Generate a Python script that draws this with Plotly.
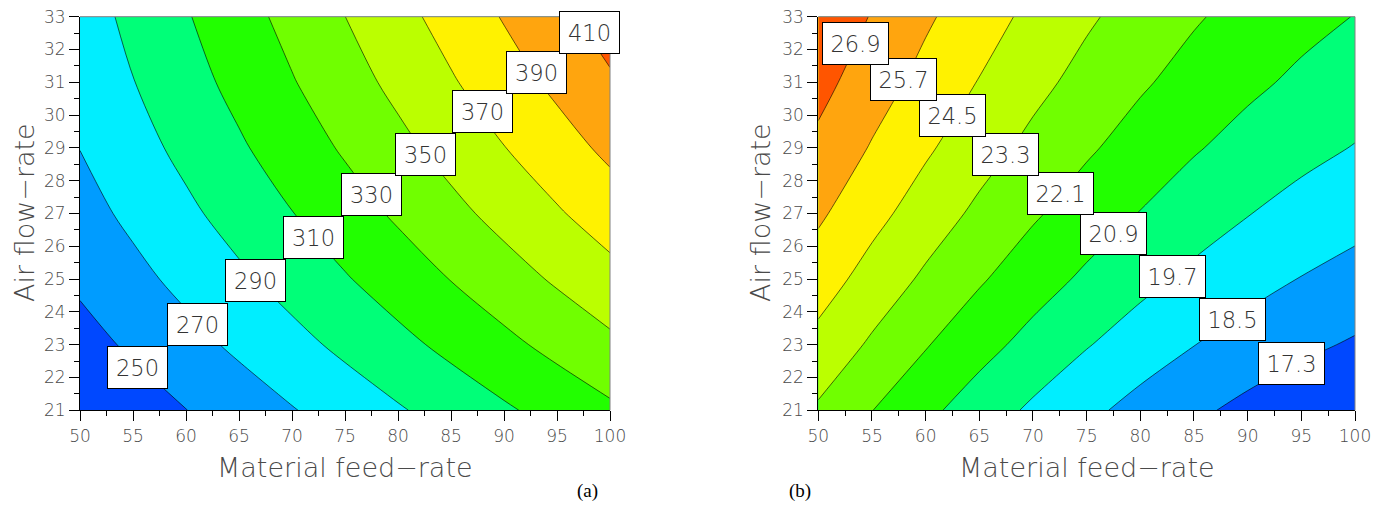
import plotly.graph_objects as go

# ---------------- data ----------------
feed_rate = [50, 55, 60, 65, 70, 75, 80, 85, 90, 95, 100]
air_flow = [21, 23, 25, 27, 29, 31, 33]

# panel (a) response surface values, rows follow air_flow
resp_a = [
    [230.5, 240.1, 249.7, 259.3, 268.9, 278.5, 288.1, 297.7, 307.3, 316.9, 326.5],
    [242.8, 253.1, 263.4, 273.7, 284.0, 294.3, 304.6, 314.9, 325.2, 335.5, 345.8],
    [253.5, 264.5, 275.5, 286.5, 297.5, 308.5, 319.5, 330.5, 341.5, 352.5, 363.5],
    [262.7, 274.4, 286.1, 297.8, 309.5, 321.2, 332.9, 344.6, 356.3, 368.0, 379.7],
    [270.3, 282.7, 295.1, 307.5, 319.9, 332.3, 344.7, 357.1, 369.5, 381.9, 394.3],
    [276.4, 289.5, 302.6, 315.7, 328.8, 341.9, 355.0, 368.1, 381.2, 394.3, 407.4],
    [280.9, 294.7, 308.5, 322.3, 336.1, 349.9, 363.7, 377.5, 391.3, 405.1, 418.9],
]

# panel (b) response surface values, rows follow air_flow
resp_b = [
    [23.14, 22.12, 21.18, 20.31, 19.50, 18.77, 18.11, 17.52, 17.00, 16.54, 16.16],
    [24.14, 23.13, 22.18, 21.31, 20.51, 19.77, 19.11, 18.52, 18.00, 17.55, 17.17],
    [25.06, 24.04, 23.10, 22.23, 21.42, 20.69, 20.03, 19.44, 18.92, 18.46, 18.08],
    [25.89, 24.87, 23.93, 23.05, 22.25, 21.52, 20.86, 20.26, 19.74, 19.29, 18.91],
    [26.63, 25.61, 24.67, 23.79, 22.99, 22.26, 21.60, 21.00, 20.48, 20.03, 19.65],
    [27.28, 26.26, 25.32, 24.45, 23.64, 22.91, 22.25, 21.66, 21.14, 20.68, 20.30],
    [27.84, 26.83, 25.88, 25.01, 24.21, 23.47, 22.81, 22.22, 21.70, 21.25, 20.87],
]

levels_a = [250, 270, 290, 310, 330, 350, 370, 390, 410]
levels_b = [17.3, 18.5, 19.7, 20.9, 22.1, 23.3, 24.5, 25.7, 26.9]

x_ticks = [50, 55, 60, 65, 70, 75, 80, 85, 90, 95, 100]
y_ticks = [21, 22, 23, 24, 25, 26, 27, 28, 29, 30, 31, 32, 33]

# ---------------- layout helpers ----------------
# label box centres (layout positions in data coordinates)
lab_pos_a = [(55.47, 22.32), (61.04, 23.63), (66.51, 24.95), (72.0, 26.27), (77.5, 27.59),
             (82.55, 28.79), (88.0, 30.12), (93.05, 31.30), (98.05, 32.52)]
lab_pos_b = [(94.10, 22.44), (88.56, 23.76), (83.04, 25.09), (77.52, 26.40), (72.55, 27.61),
             (67.47, 28.80), (62.52, 30.00), (57.96, 31.08), (53.45, 32.17)]

band_colors = ['#0048FF', '#009CFF', '#00EEFF', '#00FF78', '#22FF00',
               '#70FF00', '#BBFF00', '#FFF200', '#FFA50E', '#FF5500']
cscale = [[i / (len(band_colors) - 1), c] for i, c in enumerate(band_colors)]

W, H = 1390, 508
OFF = 8  # page body margin compensation (px)


def px(x):
    return (x - OFF) / W


def py(y):
    return (H - (y - OFF)) / H


def contour(z, levels, xa, ya):
    step = (levels[-1] - levels[0]) / (len(levels) - 1)
    return go.Contour(
        x=feed_rate, y=air_flow, z=z,
        xaxis=xa, yaxis=ya,
        colorscale=cscale, showscale=False,
        contours=dict(start=levels[0], end=levels[-1], size=step,
                      coloring='fill', showlines=True),
        line=dict(color='black', width=0.6, smoothing=0.9),
        hoverinfo='skip',
    )


fig = go.Figure()
fig.add_trace(contour(resp_a, levels_a, 'x', 'y'))
fig.add_trace(contour(resp_b, levels_b, 'x2', 'y2'))

tickfont = dict(family='DejaVu Sans', size=17, color='#4a4a4a', weight=200)


def xax(dom, anchor):
    return dict(domain=dom, range=[50, 100], tickmode='array', tickvals=x_ticks,
                ticks='outside', ticklen=10, tickwidth=1, tickcolor='black',
                minor=dict(dtick=2.5, tick0=50, ticks='outside', ticklen=5,
                           tickwidth=1, tickcolor='black'),
                showline=True, linecolor='black', linewidth=1, mirror=False,
                showgrid=False, zeroline=False, tickfont=tickfont,
                ticklabeloverflow='allow',
                anchor=anchor, fixedrange=True, automargin=False)


def yax(dom, anchor):
    return dict(domain=dom, range=[21, 33], tickmode='array', tickvals=y_ticks,
                ticks='outside', ticklen=10, tickwidth=1, tickcolor='black',
                minor=dict(dtick=0.5, tick0=21, ticks='outside', ticklen=5,
                           tickwidth=1, tickcolor='black'),
                showline=True, linecolor='black', linewidth=1, mirror=False,
                showgrid=False, zeroline=False, tickfont=tickfont,
                ticklabeloverflow='allow',
                anchor=anchor, fixedrange=True, automargin=False)


xa_dom = [px(80), px(610)]
xb_dom = [px(818.3), px(1355)]
ya_dom = [py(410.3), py(16.7)]
yb_dom = [py(410.3), py(16.7)]

fig.update_layout(
    width=W, height=H,
    margin=dict(l=0, r=0, t=0, b=0),
    paper_bgcolor='white', plot_bgcolor='white',
    showlegend=False,
    xaxis=xax(xa_dom, 'y'), yaxis=yax(ya_dom, 'x'),
    xaxis2=xax(xb_dom, 'y2'), yaxis2=yax(yb_dom, 'x2'),
)

# top / right frame lines (gray)
shapes = []
for xr, yr in (('x domain', 'y domain'), ('x2 domain', 'y2 domain')):
    shapes.append(dict(type='line', xref=xr, yref=yr, x0=0, x1=1, y0=1, y1=1,
                       line=dict(color='#808080', width=1)))
    shapes.append(dict(type='line', xref=xr, yref=yr, x0=1, x1=1, y0=0, y1=1,
                       line=dict(color='#808080', width=1)))
fig.update_layout(shapes=shapes)

annotations = []
labfont = dict(family='DejaVu Sans', size=22.5, color='#333333', weight=200)
for v, (lx, ly) in zip(levels_a, lab_pos_a):
    annotations.append(dict(x=lx, y=ly, xref='x', yref='y', text=f"{v:g}",
                            showarrow=False, font=labfont, bgcolor='white',
                            bordercolor='black', borderwidth=1, borderpad=0,
                            width=59, height=41, align='center', valign='middle'))
for v, (lx, ly) in zip(levels_b, lab_pos_b):
    annotations.append(dict(x=lx, y=ly, xref='x2', yref='y2', text=f"{v:.1f}",
                            showarrow=False, font=labfont, bgcolor='white',
                            bordercolor='black', borderwidth=1, borderpad=0,
                            width=65, height=41, align='center', valign='middle'))

titlefont = dict(family='DejaVu Sans', size=27, color='#4a4a4a', weight=200)
for dom in (xa_dom, xb_dom):
    annotations.append(dict(x=(dom[0] + dom[1]) / 2, y=py(467), xref='paper', yref='paper',
                            text='Material feed\u2212rate', showarrow=False, font=titlefont,
                            xanchor='center', yanchor='middle'))
annotations.append(dict(x=px(25), y=py(213), xref='paper', yref='paper',
                        text='Air flow\u2212rate', showarrow=False, font=titlefont,
                        textangle=-90, xanchor='center', yanchor='middle'))
annotations.append(dict(x=px(761), y=py(213), xref='paper', yref='paper',
                        text='Air flow\u2212rate', showarrow=False, font=titlefont,
                        textangle=-90, xanchor='center', yanchor='middle'))

capfont = dict(family='Liberation Serif', size=19, color='black')
annotations.append(dict(x=px(587), y=py(491), xref='paper', yref='paper', text='(a)',
                        showarrow=False, font=capfont, xanchor='center', yanchor='middle'))
annotations.append(dict(x=px(800), y=py(491), xref='paper', yref='paper', text='(b)',
                        showarrow=False, font=capfont, xanchor='center', yanchor='middle'))

fig.update_layout(annotations=annotations)

fig.write_html("out.html")
